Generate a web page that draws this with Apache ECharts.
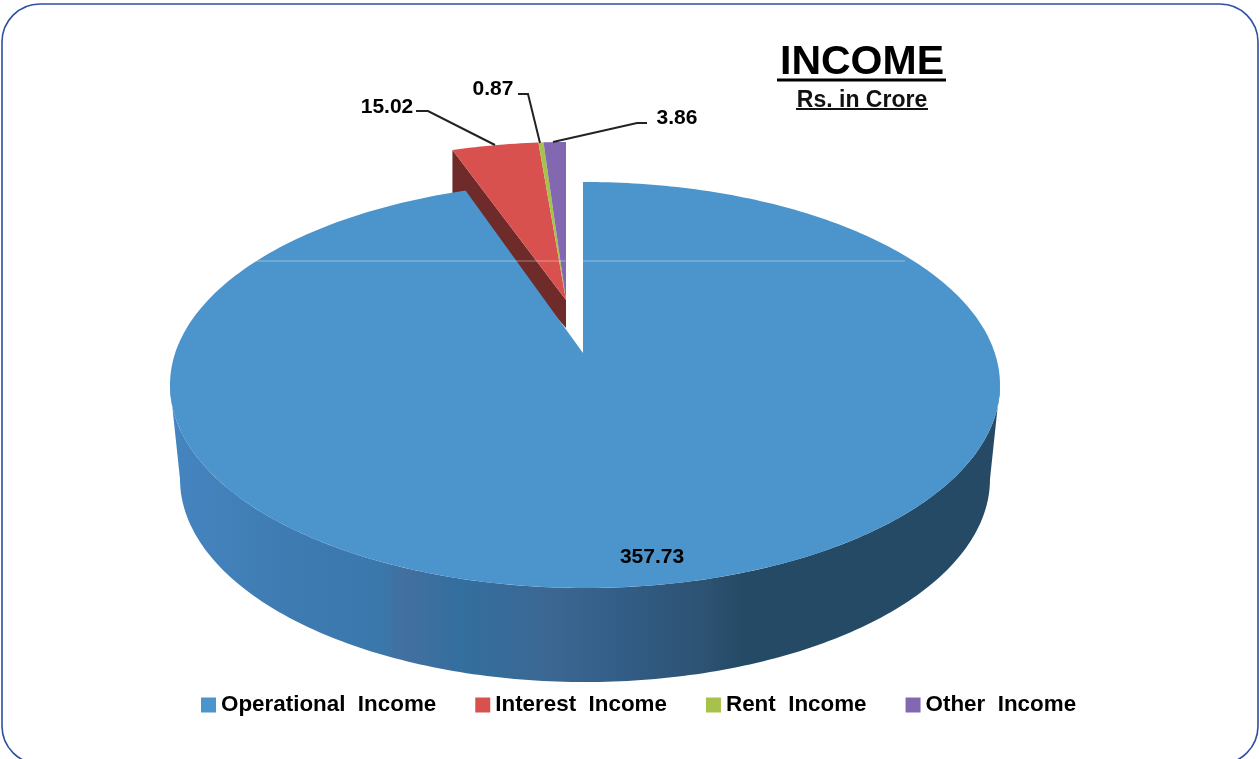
<!DOCTYPE html>
<html>
<head>
<meta charset="utf-8">
<style>html,body{margin:0;padding:0;background:#fff}#c{width:1260px;height:759px}</style>
<script src="https://cdn.jsdelivr.net/npm/echarts@6/dist/echarts.min.js"></script>
</head>
<body>
<div id="c"></div>
<script>
const categories = ['Operational  Income', 'Interest  Income', 'Rent  Income', 'Other  Income'];
const values = [357.73, 15.02, 0.87, 3.86];
const titleText = 'INCOME';
const subtitleText = 'Rs. in Crore';

const colors = ['#4b94cc', '#d9514f', '#a6c24a', '#8268b0'];
const total = values.reduce((a, b) => a + b, 0);
const ELL = { cx: 585, cy: 385, rx: 415, ry: 203 };
const BASE = { cx: 585, cy: 479, rx: 405, ry: 203 };
// Blue slice sits in place; the three small slices are pulled out towards the top-left.
const APEX_MAIN = { x: 583, y: 353, ex: 0, ey: 0, flat: 2.12 };
const APEX_OUT = { x: 566, y: 300, ex: -17, ey: -40, flat: 2.22 };
const DEPTH_INNER = 28, DEPTH_OUTER = 50;
// label anchor and leader line layout per slice
const labelLayout = [
  { x: 652, y: 557, leader: null },
  { x: 387, y: 107, leader: [[416, 111], [428, 111], [495, 145]] },
  { x: 493, y: 89, leader: [[518, 94], [528, 94], [540, 143]] },
  { x: 677, y: 118, leader: [[647, 123], [637, 123], [553, 142]] }
];

function rim(apex, theta) {
  const dx = Math.sin(theta), dy = -Math.cos(theta) / apex.flat;
  const cx = ELL.cx + apex.ex, cy = ELL.cy + apex.ey;
  const ox = (apex.x - cx) / ELL.rx, oy = (apex.y - cy) / ELL.ry;
  const ux = dx / ELL.rx, uy = dy / ELL.ry;
  const A = ux * ux + uy * uy, B = 2 * (ox * ux + oy * uy), C = ox * ox + oy * oy - 1;
  const t = (-B + Math.sqrt(B * B - 4 * A * C)) / (2 * A);
  return [apex.x + dx * t, apex.y + dy * t];
}
function makeSlice(index) {
  return function (params, api) {
    const v = api.value(0);
    let before = 0;
    for (let i = 0; i < index; i++) before += values[i];
    const a0 = before / total * Math.PI * 2;
    const a1 = (before + v) / total * Math.PI * 2;
    const apex = index === 0 ? APEX_MAIN : APEX_OUT;
    const n = Math.max(4, Math.ceil((a1 - a0) / (Math.PI / 180)));
    const pts = [[apex.x, apex.y]];
    for (let i = 0; i <= n; i++) pts.push(rim(apex, a0 + (a1 - a0) * i / n));
    const children = [];
    if (index === 0) {
      const side = [];
      for (let i = 0; i <= 180; i++) {
        const t = i * Math.PI / 180;
        side.push([ELL.cx + ELL.rx * Math.cos(t), ELL.cy + ELL.ry * Math.sin(t)]);
      }
      for (let i = 180; i >= 0; i--) {
        const t = i * Math.PI / 180;
        side.push([BASE.cx + BASE.rx * Math.cos(t), BASE.cy + BASE.ry * Math.sin(t)]);
      }
      children.push({
        type: 'polygon', shape: { points: side },
        style: {
          fill: {
            type: 'linear', global: true, x: 170, y: 0, x2: 1000, y2: 0,
            colorStops: [
              { offset: 0, color: '#4585c0' }, { offset: 0.16, color: '#3d7ab0' },
              { offset: 0.25, color: '#3a78ac' }, { offset: 0.284, color: '#436f9f' },
              { offset: 0.35, color: '#336f9f' }, { offset: 0.458, color: '#3c6792' },
              { offset: 0.537, color: '#335e87' }, { offset: 0.646, color: '#2d5272' },
              { offset: 0.688, color: '#254a66' }, { offset: 1, color: '#264a66' }
            ]
          }
        }
      });
    }
    if (index === 1) {
      const o = pts[1];
      children.push({
        type: 'polygon',
        shape: { points: [o, [apex.x, apex.y], [apex.x, apex.y + DEPTH_INNER], [o[0], o[1] + DEPTH_OUTER]] },
        style: { fill: '#6f2a2a' }
      });
    }
    children.push({ type: 'polygon', shape: { points: pts }, style: { fill: colors[index] } });
    const lay = labelLayout[index];
    if (lay.leader) {
      children.push({
        type: 'polyline', shape: { points: lay.leader },
        style: { fill: null, stroke: '#222', lineWidth: 2 }
      });
    }
    children.push({
      type: 'text', x: lay.x, y: lay.y,
      style: {
        text: v.toFixed(2), align: 'center', verticalAlign: 'middle',
        fill: '#000', font: 'bold 21px "Liberation Sans", Arial, sans-serif'
      }
    });
    return { type: 'group', children };
  };
}

const chart = echarts.init(document.getElementById('c'), null, { renderer: 'canvas' });
chart.setOption({
  animation: false,
  backgroundColor: '#fff',
  title: {
    text: titleText, subtext: subtitleText,
    left: 862, top: 42, textAlign: 'center', itemGap: 6, padding: 0,
    textStyle: { fontFamily: '"Liberation Sans"', fontWeight: 'bold', fontSize: 41, color: '#000' },
    subtextStyle: { fontFamily: '"Liberation Sans"', fontWeight: 'bold', fontSize: 23, color: '#111' }
  },
  legend: {
    data: categories, left: 201, top: 694, itemWidth: 15, itemHeight: 15, itemGap: 39, padding: 0,
    icon: 'rect', selectedMode: false,
    textStyle: { fontFamily: '"Liberation Sans"', fontWeight: 'bold', fontSize: 22.4, color: '#000' }
  },
  series: categories.map((name, i) => ({
    type: 'custom', name, coordinateSystem: 'none', z: i === 0 ? 3 : 2,
    silent: true, itemStyle: { color: colors[i] },
    data: [[values[i]]], renderItem: makeSlice(i)
  })),
  graphic: [
    { type: 'rect', z: 10, silent: true, shape: { x: 2, y: 4, width: 1256, height: 760, r: 38 },
      style: { fill: null, stroke: '#2f4fa0', lineWidth: 1.6 } },
    { type: 'line', z: 10, silent: true, shape: { x1: 777, y1: 80, x2: 946, y2: 80 }, style: { stroke: '#000', lineWidth: 3 } },
    { type: 'line', z: 10, silent: true, shape: { x1: 796, y1: 109, x2: 928, y2: 109 }, style: { stroke: '#111', lineWidth: 2 } },
    { type: 'line', z: 10, silent: true, shape: { x1: 256, y1: 261, x2: 905, y2: 261 }, style: { stroke: 'rgba(255,255,255,0.4)', lineWidth: 1 } }
  ]
});
</script>
</body>
</html>
